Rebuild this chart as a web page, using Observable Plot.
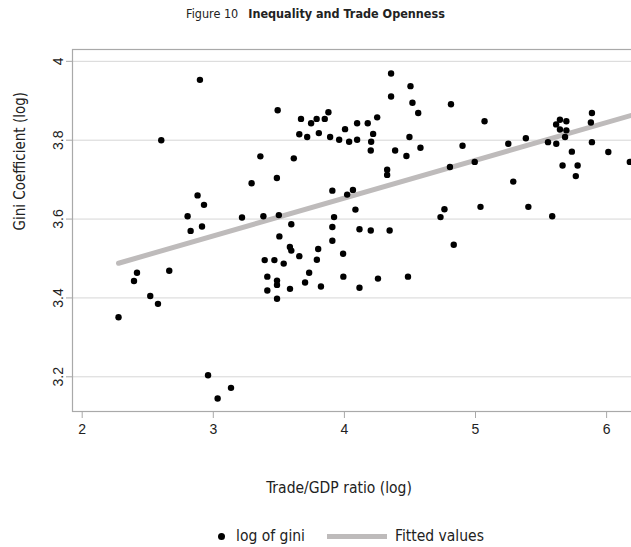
<!DOCTYPE html>
<html>
<head>
<meta charset="utf-8">
<script src="https://cdn.jsdelivr.net/npm/d3@7"></script>
<script src="https://cdn.jsdelivr.net/npm/@observablehq/plot@0.6"></script>
<style>
  html, body { margin: 0; padding: 0; background: #fff; overflow: hidden; }
  #grafico { width: 631px; overflow: hidden; color: #222; }
  #grafico svg { max-width: none !important; display: block; }
  .titulo {
    box-sizing: border-box; height: 30px; line-height: 24px; padding-top: 6px; text-align: center;
    font: 12.5px "Liberation Sans Narrow", "DejaVu Sans Condensed", sans-serif;
  }
  .titulo b { margin-left: 10px; }
  .xtitulo {
    box-sizing: border-box; width: 631px; padding-left: 47px;
    margin-top: 28px; height: 20px; line-height: 20px; text-align: center;
    font: 15.5px "DejaVu Sans Condensed", "Liberation Sans Narrow", sans-serif;
  }
  .leyenda {
    display: flex; align-items: center; margin-top: 27px; height: 20px;
    padding-left: 218px;
    font: 15.5px "DejaVu Sans Condensed", "Liberation Sans Narrow", sans-serif;
  }
  .leyenda .punto { width: 7px; height: 7px; border-radius: 50%; background: #000; margin-right: 11px; }
  .leyenda .linea { width: 60px; height: 5px; background: #bebbbb; margin: 0 8px 0 22px; }
</style>
</head>
<body>
<div id="grafico"></div>
<script>
// log trade/GDP ratio (x) and log gini (y)
const tradeLog = [
  2.277, 2.395, 2.418, 2.519, 2.578, 2.603, 2.664, 2.804, 2.827, 2.880,
  2.898, 2.914, 2.929, 2.960, 3.033, 3.135, 3.219, 3.292, 3.359, 3.382,
  3.392, 3.412, 3.412, 3.466, 3.485, 3.491, 3.486, 3.486, 3.486, 3.500,
  3.504, 3.537, 3.584, 3.595, 3.585, 3.595, 3.614, 3.656, 3.656, 3.669,
  3.700, 3.716, 3.731, 3.746, 3.788, 3.790, 3.800, 3.805, 3.821, 3.850,
  3.878, 3.891, 3.908, 3.921, 3.908, 3.908, 3.960, 3.990, 3.992, 4.005,
  4.021, 4.036, 4.065, 4.084, 4.097, 4.097, 4.115, 4.115, 4.178, 4.201,
  4.204, 4.201, 4.219, 4.250, 4.256, 4.326, 4.326, 4.345, 4.356, 4.356,
  4.387, 4.473, 4.485, 4.496, 4.504, 4.519, 4.563, 4.580, 4.733, 4.763,
  4.805, 4.813, 4.834, 4.901, 4.994, 5.038, 5.069, 5.250, 5.288, 5.384,
  5.403, 5.553, 5.585, 5.615, 5.616, 5.644, 5.644, 5.693, 5.693, 5.683,
  5.664, 5.735, 5.765, 5.779, 5.880, 5.888, 5.888, 6.013, 6.177
];
const giniLog = [
  3.351, 3.443, 3.464, 3.405, 3.385, 3.800, 3.469, 3.607, 3.570, 3.660,
  3.953, 3.581, 3.636, 3.204, 3.145, 3.172, 3.604, 3.691, 3.759, 3.607,
  3.496, 3.454, 3.419, 3.496, 3.704, 3.876, 3.444, 3.433, 3.398, 3.610,
  3.556, 3.487, 3.529, 3.520, 3.423, 3.587, 3.754, 3.815, 3.506, 3.854,
  3.439, 3.808, 3.464, 3.843, 3.854, 3.497, 3.524, 3.818, 3.429, 3.854,
  3.871, 3.808, 3.672, 3.605, 3.580, 3.545, 3.801, 3.512, 3.454, 3.828,
  3.662, 3.796, 3.674, 3.624, 3.843, 3.801, 3.574, 3.426, 3.843, 3.571,
  3.796, 3.774, 3.816, 3.858, 3.449, 3.725, 3.712, 3.571, 3.969, 3.911,
  3.774, 3.760, 3.454, 3.808, 3.937, 3.895, 3.869, 3.781, 3.605, 3.625,
  3.732, 3.891, 3.535, 3.786, 3.745, 3.631, 3.848, 3.791, 3.695, 3.805,
  3.631, 3.795, 3.607, 3.840, 3.791, 3.852, 3.827, 3.848, 3.825, 3.808,
  3.736, 3.771, 3.709, 3.736, 3.845, 3.869, 3.795, 3.770, 3.745
];

// fitted line, end points as seen on the chart
const fitX = [2.277, 6.19];
const fitY = [3.488, 3.863];

const xTicks = [2, 3, 4, 5, 6];
const yTicks = [3.2, 3.4, 3.6, 3.8, 4];

const TITULO_FIG = "Figure 10";
const TITULO = "Inequality and Trade Openness";
const Y_TITULO = "Gini Coefficient (log)";
const X_TITULO = "Trade/GDP ratio (log)";
const LEY_PUNTOS = "log of gini";
const LEY_AJUSTE = "Fitted values";

const GRIS_EJE = "#a9a9a9";
const GRIS_AJUSTE = "#bebbbb";
const NARROW = "DejaVu Sans Condensed, Liberation Sans Narrow, sans-serif";

const puntos = tradeLog.map((x, i) => ({ x, y: giniLog[i] }));
const ajuste = fitX.map((x, i) => ({ x, y: fitY[i] }));

const host = document.getElementById("grafico");

const titulo = document.createElement("div");
titulo.className = "titulo";
titulo.innerHTML = `${TITULO_FIG}<b>${TITULO}</b>`;
host.appendChild(titulo);

// svg is wider than the window: the right side of the frame falls off, as in the original
host.appendChild(Plot.plot({
  width: 660, height: 421,
  marginLeft: 72, marginRight: 0, marginTop: 19, marginBottom: 40,
  style: { fontFamily: "Liberation Sans, Arial, sans-serif", fontSize: "14px", color: "#222", background: "#fff", maxWidth: "none" },
  x: { domain: [1.926, 6.411] },
  y: { domain: [3.112, 4.030] },
  marks: [
    Plot.gridY(yTicks, { stroke: "#d6d6d6", strokeOpacity: 1 }),
    Plot.frame({ stroke: GRIS_EJE, strokeWidth: 1.2 }),
    Plot.axisY(yTicks, {
      tickSize: 6, tickPadding: 4, tickRotate: -90, fontSize: 14,
      stroke: GRIS_EJE, label: null, tickFormat: (d) => String(d),
    }),
    Plot.axisX(xTicks, {
      tickSize: 7, tickPadding: 6, fontSize: 14,
      stroke: GRIS_EJE, label: null, tickFormat: (d) => String(d),
    }),
    Plot.text([Y_TITULO], {
      text: (d) => d, frameAnchor: "left", rotate: -90, dx: -52,
      fontSize: 15, fontFamily: NARROW, fill: "#222",
    }),
    Plot.line(ajuste, { x: "x", y: "y", stroke: GRIS_AJUSTE, strokeWidth: 5 }),
    Plot.dot(puntos, { x: "x", y: "y", r: 3.2, fill: "#000" }),
  ],
}));

const xt = document.createElement("div");
xt.className = "xtitulo";
xt.textContent = X_TITULO;
host.appendChild(xt);

const ley = document.createElement("div");
ley.className = "leyenda";
ley.innerHTML =
  `<span class="punto"></span><span>${LEY_PUNTOS}</span>` +
  `<span class="linea"></span><span>${LEY_AJUSTE}</span>`;
host.appendChild(ley);
</script>
</body>
</html>
